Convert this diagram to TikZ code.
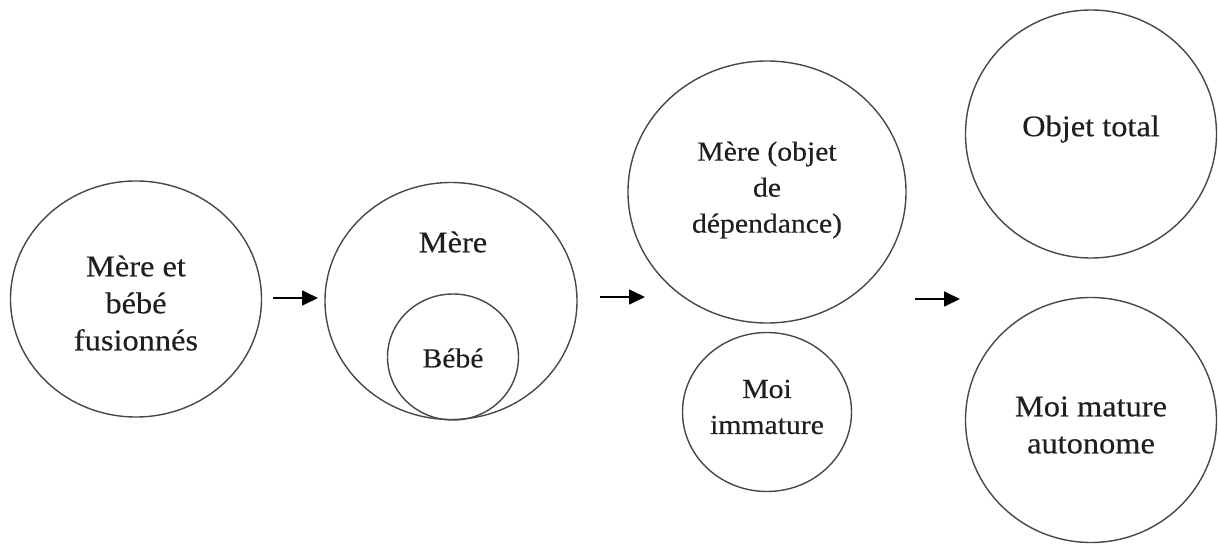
\documentclass[tikz,border=0pt]{standalone}
\usepackage{fontspec}
\setmainfont{Liberation Serif}[FakeBold=0.3,FakeStretch=1.08]
\usetikzlibrary{shapes.geometric,arrows.meta}
\begin{document}
\begin{tikzpicture}[x=1pt,y=-1pt,
  ring/.style={draw=black!72, line width=1.4pt, ellipse, inner sep=0pt},
  lbl/.style={align=center, inner sep=0pt, text=black!88},
  big/.style={font=\fontsize{30}{37}\selectfont},
  mid/.style={font=\fontsize{27.5}{36}\selectfont},
  flow/.style={line width=1.7pt, -{Triangle[length=16pt,width=15pt]}}]
\useasboundingbox (0,0) rectangle (1218,545);
% circles
\node[ring, minimum width=251pt, minimum height=236pt] (c1) at (136,299) {};
\node[ring, minimum width=252pt, minimum height=237pt] (c2) at (451,301) {};
\node[ring, minimum width=131pt, minimum height=126pt] (c2in) at (453,357) {};
\node[ring, minimum width=278pt, minimum height=262pt] (c3) at (767,192) {};
\node[ring, minimum width=169pt, minimum height=159pt] (c4) at (767,412) {};
\node[ring, minimum width=251pt, minimum height=248pt] (c5) at (1091,134) {};
\node[ring, minimum width=251pt, minimum height=245pt] (c6) at (1091,420) {};
% texts
\node[lbl, big] (t1) at (136,303) {Mère et\\bébé\\fusionnés};
\node[lbl, big] (t2) at (453,242) {Mère};
\node[lbl, mid] (t2in) at (453,358) {Bébé};
\node[lbl, mid] (t3) at (767,190) {Mère (objet\\de\\dépendance)};
\node[lbl, mid] (t4) at (767,407) {Moi\\immature};
\node[lbl, big] (t5) at (1091,129) {Objet total};
\node[lbl, big] (t6) at (1091,425) {Moi mature\\autonome};
% arrows
\coordinate (a1s) at (273,298);
\coordinate (a1e) at (318,298);
\coordinate (a2s) at (600,297);
\coordinate (a2e) at (645,297);
\coordinate (a3s) at (915,299);
\coordinate (a3e) at (960,299);
\draw[flow] (a1s) -- (a1e);
\draw[flow] (a2s) -- (a2e);
\draw[flow] (a3s) -- (a3e);
\end{tikzpicture}
\end{document}
